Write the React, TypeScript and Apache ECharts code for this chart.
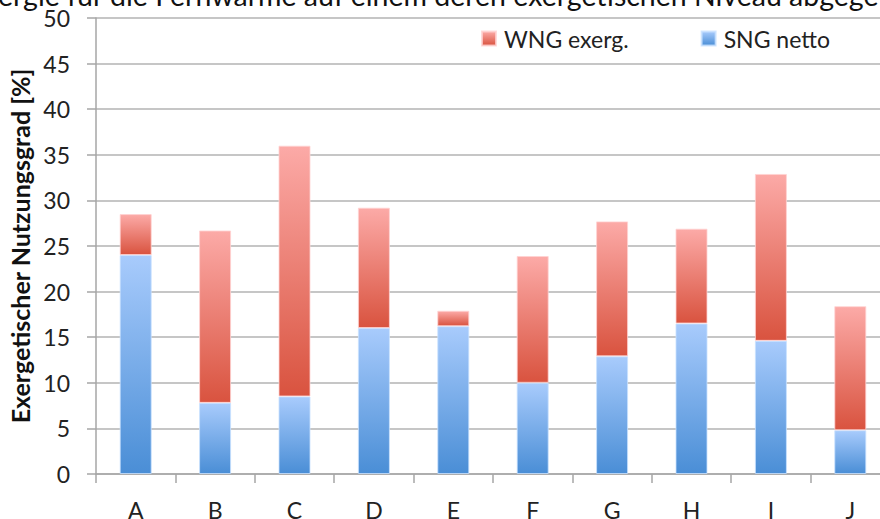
import React, { useEffect, useRef } from "react";
import * as echarts from "echarts";

const categories = ["A", "B", "C", "D", "E", "F", "G", "H", "I", "J"];
const sngNetto = [24.0, 7.8, 8.5, 16.0, 16.2, 10.0, 12.9, 16.5, 14.6, 4.8];
const wngExerg = [4.5, 18.9, 27.5, 13.2, 1.7, 13.9, 14.8, 10.4, 18.3, 13.6];
const yMin = 0;
const yMax = 50;
const yStep = 5;
const yAxisTitle = "Exergetischer Nutzungsgrad [%]";
const captionText = "ergie für die Fernwärme auf einem deren exergetischen Niveau abgege";

export default function App() {
  const ref = useRef<HTMLDivElement>(null);
  useEffect(() => {
    if (!ref.current) return;
    const chart = echarts.init(ref.current, undefined, { renderer: "svg" });
    const blue = new echarts.graphic.LinearGradient(0, 0, 0, 1, [
      { offset: 0, color: "#a8cbfc" },
      { offset: 1, color: "#4a8ed6" },
    ]);
    const red = new echarts.graphic.LinearGradient(0, 0, 0, 1, [
      { offset: 0, color: "#fcaaa7" },
      { offset: 1, color: "#d9533f" },
    ]);
    const font = "Lato, 'Open Sans', sans-serif";
    chart.setOption({
      animation: false,
      backgroundColor: "#ffffff",
      textStyle: { fontFamily: font },
      graphic: [
        {
          type: "text",
          x: -2,
          y: -5,
          style: {
            text: captionText,
            fontSize: 28.5,
            fontFamily: font,
            fill: "#111",
            verticalAlign: "middle",
            align: "left",
          },
        },
      ],
      legend: {
        data: ["WNG exerg.", "SNG netto"],
        top: 22,
        left: 476,
        itemWidth: 14,
        itemHeight: 14,
        itemGap: 72,
        icon: "rect",
        textStyle: { fontSize: 23, color: "#222", fontFamily: font, padding: [0, 0, 0, 3] },
      },
      grid: {
        left: 96,
        top: 18,
        width: 794,
        height: 456,
        containLabel: false,
        outerBoundsMode: "none",
      },
      xAxis: {
        type: "category",
        data: categories,
        boundaryGap: true,
        axisLine: { show: true, lineStyle: { color: "#a6a6a6", width: 1.5 } },
        axisTick: { show: true, length: 9, inside: false, alignWithLabel: false, lineStyle: { color: "#a6a6a6", width: 1.5 } },
        axisLabel: { fontSize: 23, color: "#222", margin: 24, fontFamily: font },
        splitLine: { show: false },
      },
      yAxis: {
        type: "value",
        min: yMin,
        max: yMax,
        interval: yStep,
        name: yAxisTitle,
        nameLocation: "middle",
        nameGap: 62,
        nameRotate: 90,
        nameTextStyle: { fontSize: 25, fontWeight: "bold", color: "#111", fontFamily: font },
        axisLine: { show: true, lineStyle: { color: "#a6a6a6", width: 1.5 } },
        axisTick: { show: true, length: 9, inside: false, lineStyle: { color: "#a6a6a6", width: 1.5 } },
        axisLabel: { fontSize: 23, color: "#222", margin: 26, fontFamily: font },
        splitLine: { show: true, lineStyle: { color: "#b3b3b3", width: 1.5 } },
      },
      series: [
        {
          name: "SNG netto",
          type: "bar",
          stack: "total",
          barWidth: 32,
          data: sngNetto,
          itemStyle: { color: blue, borderColor: "rgba(200,225,255,0.8)", borderWidth: 1 },
        },
        {
          name: "WNG exerg.",
          type: "bar",
          stack: "total",
          barWidth: 32,
          data: wngExerg,
          itemStyle: { color: red, borderColor: "rgba(255,210,210,0.8)", borderWidth: 1 },
        },
      ],
    });
    return () => chart.dispose();
  }, []);
  return (
    <div
      ref={ref}
      style={{ position: "fixed", left: 0, top: 0, width: 880, height: 519 }}
    />
  );
}
